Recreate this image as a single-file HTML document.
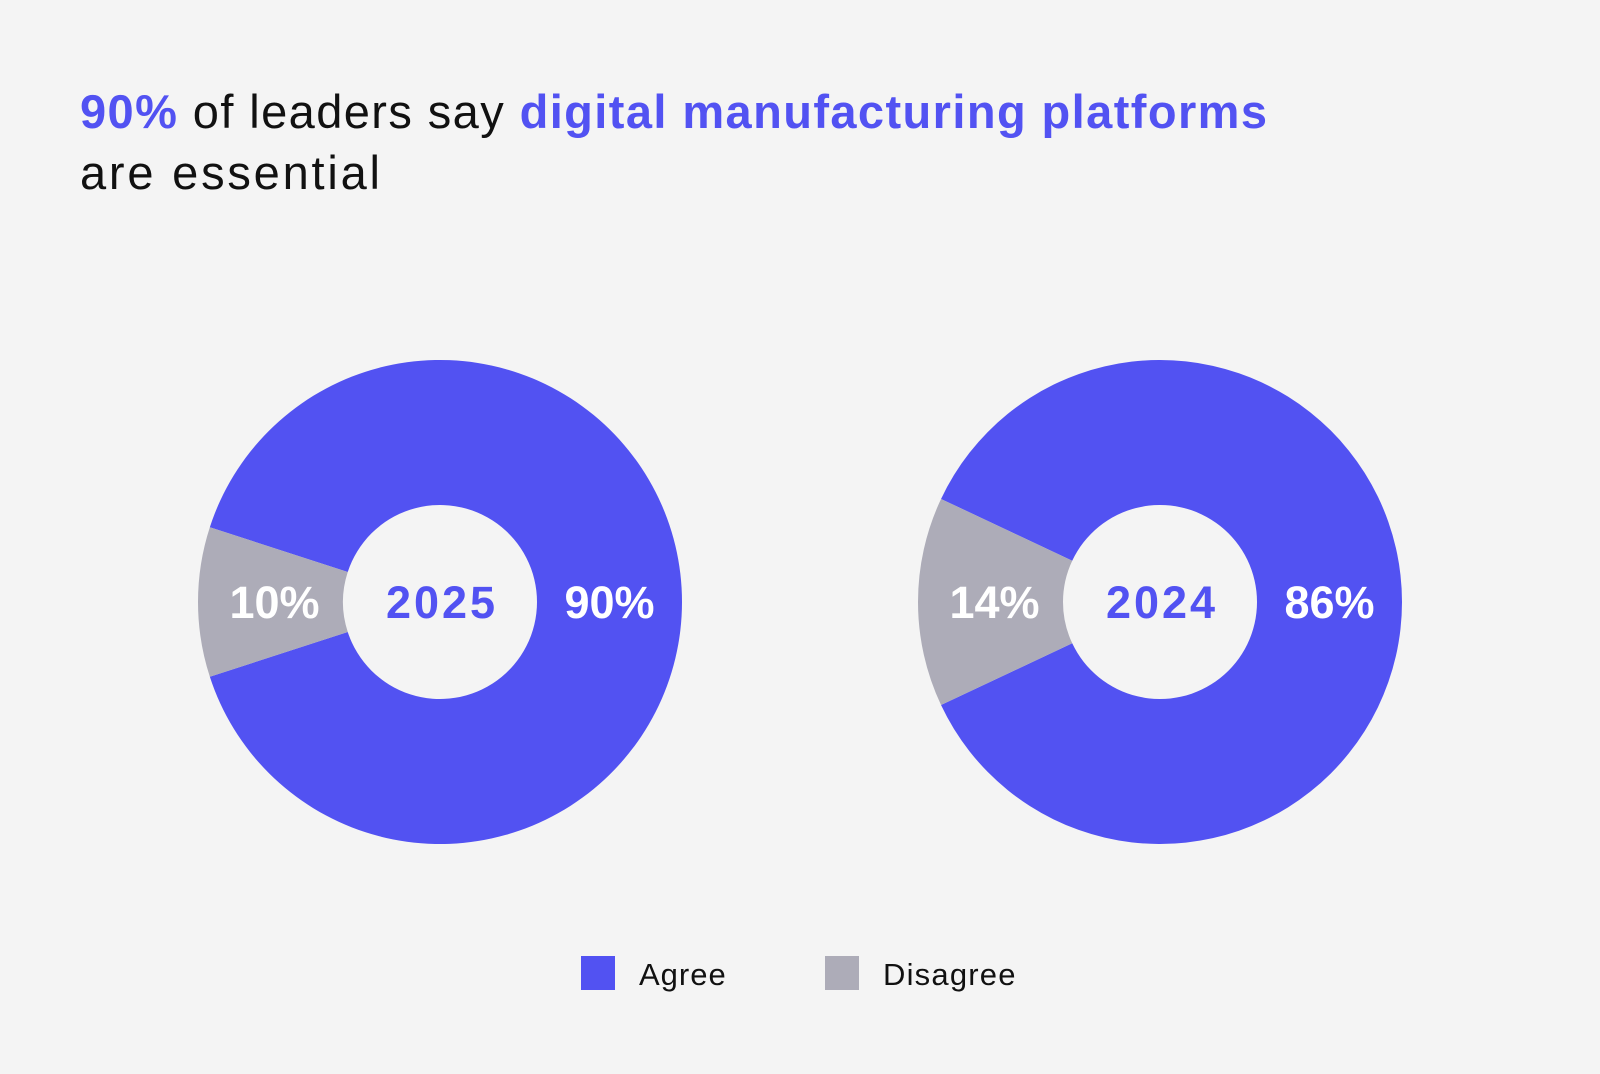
<!DOCTYPE html>
<html><head><meta charset="utf-8"><style>
body{margin:0;background:#f4f4f4;width:1600px;height:1069px;overflow:hidden;font-family:"Liberation Sans",sans-serif}
</style></head><body>
<svg width="1600" height="1069" viewBox="0 0 1600 1069">
<rect width="1600" height="1069" fill="#f4f4f4"/>
<text x="80" y="128" font-size="47" fill="#111" textLength="1187" lengthAdjust="spacing"><tspan fill="#5252f2" font-weight="bold">90%</tspan> of leaders say <tspan fill="#5252f2" font-weight="bold">digital manufacturing platforms</tspan></text>
<text x="80" y="189" font-size="47" fill="#111" textLength="300" lengthAdjust="spacing">are essential</text>
<g id="charts"></g>
<rect x="581" y="956" width="34" height="34" fill="#5252f2"/>
<text x="639" y="985" font-size="31" fill="#111" letter-spacing="1">Agree</text>
<rect x="825" y="956" width="34" height="34" fill="#adacb8"/>
<text x="883" y="985" font-size="31" fill="#111" letter-spacing="1.2">Disagree</text>
</svg>
<script>
const years=["2025","2024"];
const agreeValues=[90,86];
const disagreeValues=[10,14];
const centersX=[440,1160];
const cy=602,R=242,r=97;
const NS="http://www.w3.org/2000/svg";
const g=document.getElementById('charts');
function pt(cx,rad,deg){const a=deg*Math.PI/180;return [cx+rad*Math.cos(a),cy-rad*Math.sin(a)];}
function arc(cx,a0,a1){const large=(a1-a0)>180?1:0;const p0=pt(cx,R,a0),p1=pt(cx,R,a1),q1=pt(cx,r,a1),q0=pt(cx,r,a0);
return `M${p0}A${R},${R} 0 ${large} 0 ${p1}L${q1}A${r},${r} 0 ${large} 1 ${q0}Z`;}
years.forEach((y,i)=>{
 const cx=centersX[i];const tot=agreeValues[i]+disagreeValues[i];
 const dAng=disagreeValues[i]/tot*360;
 const d0=180-dAng/2,d1=180+dAng/2;
 const pa=document.createElementNS(NS,'path');pa.setAttribute('d',arc(cx,d1,d0+360));pa.setAttribute('fill','#5252f2');
 
 
 g.appendChild(pa);
 const pd=document.createElementNS(NS,'path');pd.setAttribute('d',arc(cx,d0,d1));pd.setAttribute('fill','#adacb8');
 
 
 g.appendChild(pd);
 const mk=(x,txt,fill,name,ls)=>{const t=document.createElementNS(NS,'text');t.setAttribute('x',x);t.setAttribute('y',cy+16);t.setAttribute('text-anchor','middle');t.setAttribute('font-size','45');t.setAttribute('font-weight','bold');t.setAttribute('letter-spacing',ls);t.setAttribute('fill',fill);t.textContent=txt;
 
 
 g.appendChild(t);};
 const mid=(R+r)/2;
 mk(cx+2,y,'#5252f2','year-label-'+y,'3');
 mk(pt(cx,mid,0)[0],agreeValues[i]+'%','#fff','agree-value-'+y,'0');
 mk(pt(cx,mid,180)[0]+4,disagreeValues[i]+'%','#fff','disagree-value-'+y,'0');
});
</script>
</body></html>
